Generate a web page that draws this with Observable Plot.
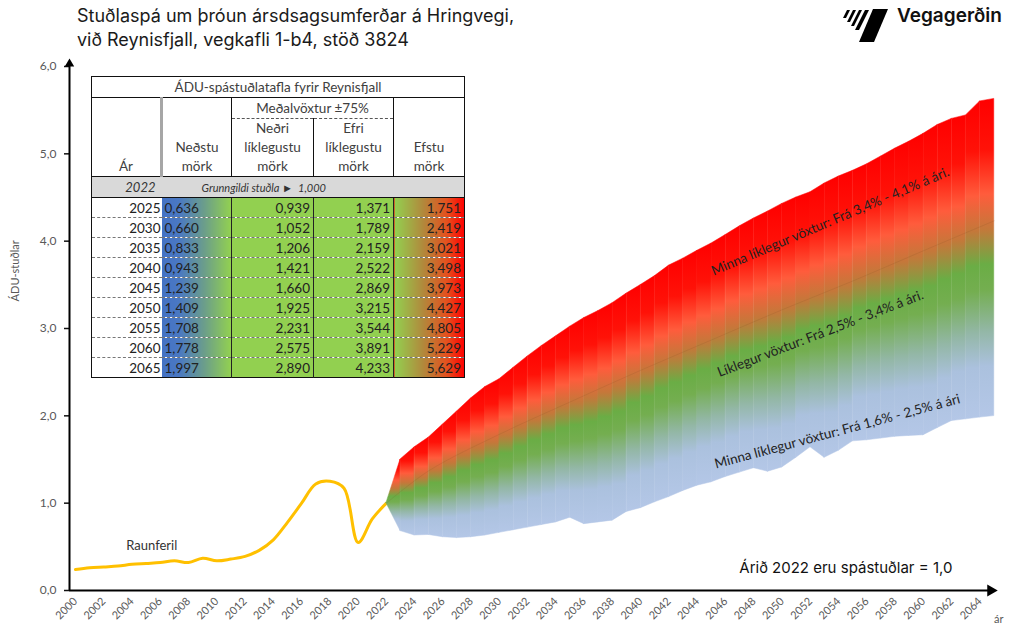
<!DOCTYPE html>
<html>
<head>
<meta charset="utf-8">
<script src="https://cdn.jsdelivr.net/npm/d3@7"></script>
<script src="https://cdn.jsdelivr.net/npm/@observablehq/plot@0.6"></script>
<style>
  body { margin: 0; background: #fff; }
  #wrap { position: relative; width: 1013px; height: 630px; overflow: hidden; font-family: Lato, sans-serif; }
  #title { position: absolute; left: 77px; top: 4px; font-family: Inter, sans-serif; font-weight: 400; font-size: 18px; line-height: 24px; color: #1a1a1a; white-space: nowrap; }
  #brand { position: absolute; left: 897px; top: 4px; font-family: Inter, sans-serif; font-weight: 600; font-size: 19px; color: #111; }
  #logo { position: absolute; left: 843px; top: 5px; }
  #chart { position: absolute; left: 0; top: 56px; }
  #tbl { position: absolute; left: 91px; top: 76px; border-collapse: collapse; table-layout: fixed; width: 373px;
         border: 1.5px solid #111; background: #fff; font-family: Lato, sans-serif; color: #333; }
  #tbl td { padding: 0 3px; white-space: nowrap; overflow: hidden; }
  #tbl tr.t td { height: 20px; text-align: center; font-size: 13.5px; border-bottom: 1px solid #111; color: #404040; }
  #tbl tr.h1 td, #tbl tr.h2 td { text-align: center; font-size: 13.5px; line-height: 19px; color: #404040; }
  #tbl tr.h1 td { height: 20px; }
  #tbl tr.h2 td { height: 57px; vertical-align: bottom; }
  #tbl td.ar { vertical-align: bottom; border-right: 3px solid #a6a6a6; }
  #tbl td.nm { vertical-align: bottom; border-right: 1px solid #111; }
  #tbl td.mv { border-bottom: 1px dashed #555; border-right: 1px solid #111; }
  #tbl td.em { vertical-align: bottom; }
  #tbl td.nr { border-right: 1px solid #111; }
  #tbl td.ef { border-right: 1px solid #111; }
  #tbl tr.g td { height: 20px; background: #d9d9d9; border-top: 1px solid #111; border-bottom: 1px solid #111; font-style: italic; }
  #tbl td.gy { text-align: right; font-size: 13px; padding-right: 6px; color: #333; }
  #tbl td.gt { font-size: 11px; padding-left: 40px; color: #333; }
  #tbl tr.d td { height: 19px; font-size: 13.5px; border-bottom: 1px dashed #777; color: #222; }
  #tbl tr.d:last-child td { border-bottom: none; }
  #tbl td.c0 { text-align: right; background: #fff; padding-right: 1px; }
  #tbl td.c1 { text-align: left; background: linear-gradient(to right, #4472c4 0%, #4a78c2 25%, #6a9c8c 60%, #92d050 100%); }
  #tbl td.c2, #tbl td.c3 { text-align: right; background: #92d050; border-left: 1px solid #222; }
  #tbl td.c4 { text-align: right; background: linear-gradient(to right, #92d050 0%, #b08a3c 40%, #e4501e 75%, #ff0000 100%); border-left: 1px solid #222; }
</style>
</head>
<body>
<svg width="0" height="0" style="position:absolute">
  <defs>
    <linearGradient id="bandGrad" x1="0" y1="0" x2="0" y2="1">
      <stop offset="0" stop-color="#ff0000"/>
      <stop offset="0.16" stop-color="#ff1208"/>
      <stop offset="0.30" stop-color="#ff5c3c"/>
      <stop offset="0.41" stop-color="#c4783a"/>
      <stop offset="0.52" stop-color="#6aad45"/>
      <stop offset="0.60" stop-color="#74ae50"/>
      <stop offset="0.73" stop-color="#93b7a6"/>
      <stop offset="0.84" stop-color="#abc1de"/>
      <stop offset="1" stop-color="#b4c7e7"/>
    </linearGradient>
  </defs>
</svg>
<div id="wrap">
  <div id="title">Stuðlaspá um þróun ársdsagsumferðar á Hringvegi,<br>við Reynisfjall, vegkafli 1-b4, stöð 3824</div>
  <svg id="logo" width="50" height="40" viewBox="0 0 50 40">
    <polygon points="30,4 45,4 31,37 16,37" fill="#000"/>
    <polygon points="4,5 7,5 3,13 0,13" fill="#000"/>
    <polygon points="10,5 13,5 7,17 4,17" fill="#000"/>
    <polygon points="16,5 19,5 11,21 8,21" fill="#000"/>
    <polygon points="22,5 26,5 16,25 12,25" fill="#000"/>
  </svg>
  <div id="brand">Vegagerðin</div>
  <div id="chart"></div>
  <table id="tbl">
    <colgroup><col style="width:70px"><col style="width:70px"><col style="width:82px"><col style="width:80px"><col style="width:71px"></colgroup>
    <tr class="t"><td colspan="5">ÁDU-spástuðlatafla fyrir Reynisfjall</td></tr>
    <tr class="h1"><td rowspan="2" class="ar">Ár</td><td rowspan="2" class="nm">Neðstu<br>mörk</td><td colspan="2" class="mv">Meðalvöxtur ±75%</td><td rowspan="2" class="em">Efstu<br>mörk</td></tr>
    <tr class="h2"><td class="nr">Neðri<br>líklegustu<br>mörk</td><td class="ef">Efri<br>líklegustu<br>mörk</td></tr>
    <tr class="g"><td class="gy" id="baseYear"></td><td colspan="4" class="gt" id="baseText"></td></tr>
    <tbody id="rows"></tbody>
  </table>
</div>
<script>
// ---- Data ----
const realYears = [2000,2001,2002,2003,2004,2005,2006,2007,2008,2009,2010,2011,2012,2013,2014,2015,2016,2017,2018,2019,2020,2021,2022];
const realValues = [0.24,0.26,0.27,0.28,0.30,0.31,0.32,0.34,0.32,0.37,0.34,0.36,0.39,0.46,0.58,0.78,1.00,1.22,1.25,1.17,0.55,0.82,1.00];

const fcYears = [2022,2023,2024,2025,2026,2027,2028,2029,2030,2031,2032,2033,2034,2035,2036,2037,2038,2039,2040,2041,2042,2043,2044,2045,2046,2047,2048,2049,2050,2051,2052,2053,2054,2055,2056,2057,2058,2059,2060,2061,2062,2063,2064,2065];
const fcHigh = [1.00,1.50,1.64,1.751,1.90,2.05,2.20,2.33,2.419,2.55,2.68,2.80,2.91,3.021,3.12,3.20,3.29,3.40,3.498,3.60,3.72,3.80,3.89,3.973,4.07,4.17,4.26,4.34,4.427,4.50,4.56,4.66,4.74,4.805,4.88,4.97,5.06,5.14,5.229,5.33,5.40,5.44,5.60,5.629];
const fcLow = [1.00,0.68,0.63,0.636,0.61,0.60,0.61,0.63,0.660,0.69,0.72,0.75,0.78,0.833,0.76,0.78,0.80,0.90,0.943,1.01,1.07,1.14,1.20,1.239,1.30,1.35,1.40,1.36,1.409,1.52,1.64,1.52,1.60,1.708,1.72,1.74,1.76,1.77,1.778,1.86,1.94,1.96,1.98,1.997];

const baseYear = 2022;
const baseValue = 1.0;
const tableYears = [2025,2030,2035,2040,2045,2050,2055,2060,2065];
const nedstu = [0.636,0.660,0.833,0.943,1.239,1.409,1.708,1.778,1.997];
const nedri  = [0.939,1.052,1.206,1.421,1.660,1.925,2.231,2.575,2.890];
const efri   = [1.371,1.789,2.159,2.522,2.869,3.215,3.544,3.891,4.233];
const efstu  = [1.751,2.419,3.021,3.498,3.973,4.427,4.805,5.229,5.629];

const yTicks = [0,1,2,3,4,5,6];
const xTicks = [2000,2002,2004,2006,2008,2010,2012,2014,2016,2018,2020,2022,2024,2026,2028,2030,2032,2034,2036,2038,2040,2042,2044,2046,2048,2050,2052,2054,2056,2058,2060,2062,2064];

const noteTexts = ["Minna líklegur vöxtur: Frá 3,4% - 4,1% á ári.", "Líklegur vöxtur: Frá 2,5% - 3,4% á ári.", "Minna líklegur vöxtur: Frá 1,6% - 2,5% á ári"];
const noteYears = [2053.4, 2052.7, 2053.9];
const noteValues = [4.225, 2.94, 1.82];
const noteAngles = [-23, -21, -15];

// ---- Table ----
const fmt = v => v.toFixed(3).replace(".", ",");
document.getElementById("baseYear").textContent = String(baseYear);
document.getElementById("baseText").innerHTML = "Grunngildi stuðla ►&nbsp;&nbsp;" + fmt(baseValue);
const tb = document.getElementById("rows");
tableYears.forEach((yr, i) => {
  const tr = document.createElement("tr");
  tr.className = "d";
  [String(yr), fmt(nedstu[i]), fmt(nedri[i]), fmt(efri[i]), fmt(efstu[i])].forEach((t, j) => {
    const td = document.createElement("td");
    td.className = "c" + j;
    td.textContent = t;
    tr.appendChild(td);
  });
  tb.appendChild(tr);
});

// ---- Chart ----
const real = realYears.map((x, i) => ({x, y: realValues[i]}));
const segs = [];
for (let i = 0; i < fcYears.length - 1; i++) {
  for (const j of [i, i + 1]) segs.push({seg: i, x: fcYears[j], lo: fcLow[j], hi: fcHigh[j]});
}
const efriLine = [{x: baseYear, y: baseValue}].concat(tableYears.map((x, i) => ({x, y: efri[i]})));
const notes = noteTexts.map((t, i) => ({t, x: noteYears[i], y: noteValues[i], a: noteAngles[i]}));

const x0 = 1999.58, x1 = 2065.3;
const chart = Plot.plot({
  width: 1013,
  height: 574,
  marginLeft: 69,
  marginRight: 15,
  marginTop: 10,
  marginBottom: 40,
  x: {domain: [x0, x1], label: null},
  y: {domain: [0, 6], label: null},
  style: {fontFamily: "Lato, sans-serif", background: "transparent", overflow: "visible"},
  marks: [
    Plot.axisY({ticks: yTicks, tickSize: 5, tickPadding: 8, tickFormat: d => d.toFixed(1).replace(".", ","),
                fontSize: 12, fill: "#595959", stroke: "#111", strokeWidth: 1.5, label: null}),
    Plot.axisX({ticks: xTicks, tickSize: 0, tickPadding: 9, tickRotate: -45, tickFormat: d => String(d),
                fontSize: 11, fill: "#595959", label: null}),
    Plot.line(real, {x: "x", y: "y", stroke: "#ffc000", strokeWidth: 3, curve: "catmull-rom"}),
    Plot.areaY(segs, {x: "x", y1: "lo", y2: "hi", z: "seg", fill: "url(#bandGrad)", stroke: "url(#bandGrad)", strokeWidth: 0.5}),
    Plot.line(efriLine, {x: "x", y: "y", stroke: "#7a4a20", strokeOpacity: 0.15, strokeWidth: 1, curve: "catmull-rom"}),
    Plot.ruleX([x0], {y1: 0, y2: 6.02, stroke: "#000", strokeWidth: 2}),
    Plot.ruleY([0], {x1: x0, x2: 2064.6, stroke: "#000", strokeWidth: 2}),
    Plot.dot([{x: x0, y: 6.03}], {x: "x", y: "y", symbol: "triangle", r: 3.5, fill: "#000", stroke: "none"}),
    Plot.dot([{x: 2064.75, y: 0}], {x: "x", y: "y", symbol: "triangle", r: 4.5, fill: "#000", stroke: "none", rotate: 90}),
    Plot.text(notes, {x: "x", y: "y", text: "t", rotate: "a", fontSize: 13.5, fill: "#222", fontFamily: "Lato, sans-serif"}),
    Plot.text(["Raunferil"], {x: 2005.4, y: 0.515, text: d => d, fontSize: 13, fill: "#333"}),
    Plot.text(["Árið 2022 eru spástuðlar = 1,0"], {x: 2054.5, y: 0.26, text: d => d, fontSize: 15, fill: "#111", fontFamily: "Inter, sans-serif"}),
    Plot.text(["ÁDU-stuðlar"], {x: x0, y: 3.66, text: d => d, rotate: -90, dx: -54, fontSize: 11, fill: "#595959"}),
    Plot.text(["ár"], {frameAnchor: "bottom-right", text: d => d, dx: 5, dy: 32, textAnchor: "end", fontSize: 11, fill: "#595959"})
  ]
});
document.getElementById("chart").appendChild(chart);
</script>
</body>
</html>
